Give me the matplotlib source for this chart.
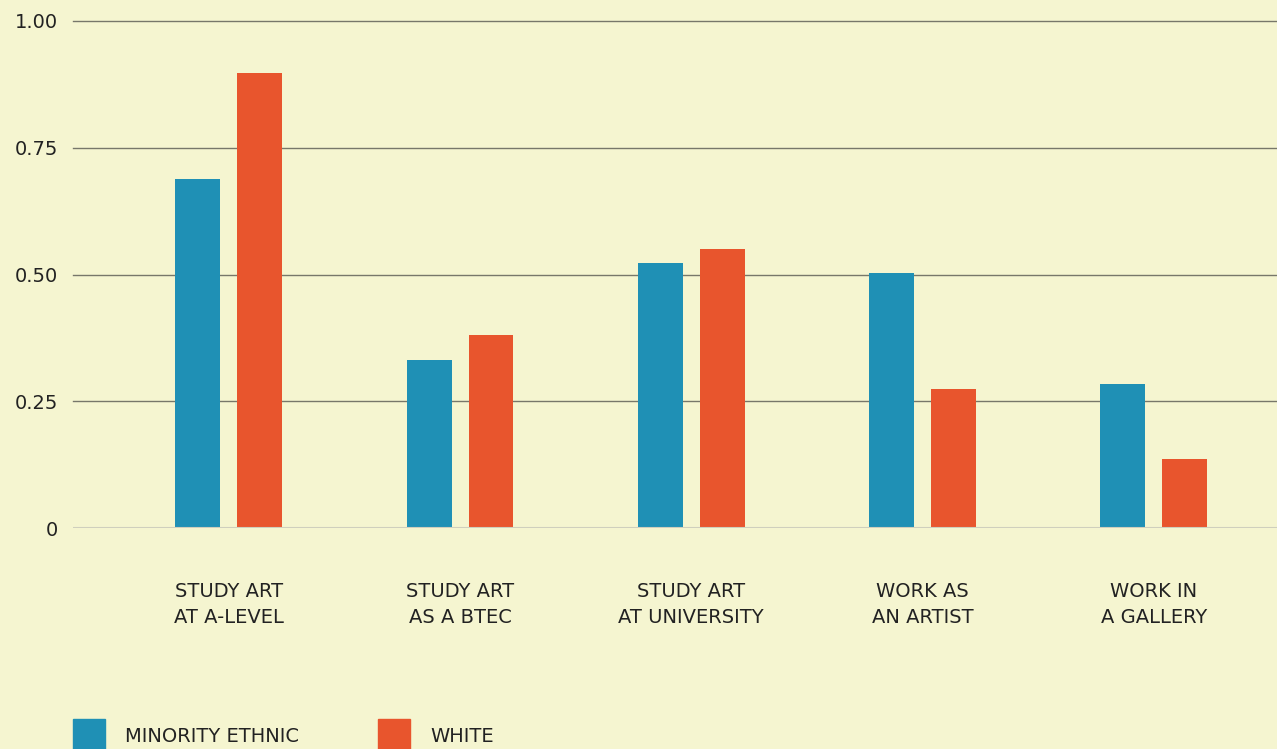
import matplotlib
matplotlib.use('Agg')
from matplotlib import pyplot as plt
from matplotlib.patches import Rectangle
import numpy as np

# Data
categories = ['STUDY ART\nAT A-LEVEL', 'STUDY ART\nAS A BTEC', 'STUDY ART\nAT UNIVERSITY',
              'WORK AS\nAN ARTIST', 'WORK IN\nA GALLERY']
minority = [0.688, 0.331, 0.523, 0.503, 0.284]
white = [0.897, 0.381, 0.550, 0.274, 0.136]
yticks = [0, 0.25, 0.50, 0.75, 1.00]
ylabels = ['0', '0.25', '0.50', '0.75', '1.00']

# Styles
bg = '#F5F5D0'
blue = '#1F90B5'
red = '#E8552D'
txt = '#222222'
plt.rcParams['font.family'] = ['DejaVu Sans']

fig = plt.figure(figsize=(12.77, 7.49), dpi=100, facecolor=bg)
ax = fig.add_axes([73 / 1277, 1 - 528 / 749, 1 - 73 / 1277, (528 - 21) / 749])
ax.set_facecolor(bg)

x = np.arange(len(categories))
w = 0.194
off = 0.134
ax.bar(x - off, minority, width=w, color=blue, zorder=3)
ax.bar(x + off, white, width=w, color=red, zorder=3)

ax.set_xlim(-0.674, 4.533)
ax.set_ylim(0, 1)

# gridlines
for t in yticks[1:]:
    ax.axhline(t, color='#77776a', linewidth=1, zorder=1, clip_on=False)
ax.axhline(0, color='#cfcfbd', linewidth=1.5, zorder=4)

for s in ax.spines.values():
    s.set_visible(False)

ax.set_yticks(yticks)
ax.set_yticklabels(ylabels, fontsize=14, color=txt)
ax.tick_params(axis='y', length=0, pad=11)
ax.set_xticks(x)
ax.set_xticklabels(categories, fontsize=14, color=txt, linespacing=1.45)
ax.tick_params(axis='x', length=0, pad=39)

# legend along the bottom edge
fig.add_artist(Rectangle((73 / 1277, 1 - 751 / 749), 32 / 1277, 32 / 749,
                         transform=fig.transFigure, color=blue))
fig.add_artist(Rectangle((378 / 1277, 1 - 751 / 749), 32 / 1277, 32 / 749,
                         transform=fig.transFigure, color=red))
fig.text(125 / 1277, 1 - 737 / 749, 'MINORITY ETHNIC', fontsize=14,
         color=txt, va='center', ha='left')
fig.text(430 / 1277, 1 - 737 / 749, 'WHITE', fontsize=14,
         color=txt, va='center', ha='left')

plt.savefig('out.png', dpi=100, facecolor=bg)
